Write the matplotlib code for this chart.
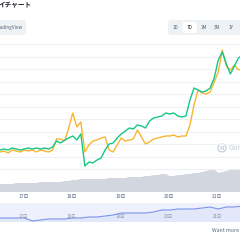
import numpy as np
import matplotlib
matplotlib.use('Agg')
import matplotlib.pyplot as plt
from matplotlib.patches import FancyBboxPatch, Circle

plt.rcParams['font.family'] = ['Noto Sans CJK JP', 'DejaVu Sans']

# two-hourly samples, first one at 16日 12:30
t_start = 16.52
step_days = 2 / 24

green_vals = [50, 51, 50, 52, 51, 50, 51, 52, 51, 52,
              51, 52, 51, 53, 59, 57, 60, 62, 64, 60,
              66, 34, 38, 37, 40, 42, 50, 56, 57, 62,
              66, 69, 72, 71, 75, 74, 72, 79, 82, 83,
              84, 87, 86, 87, 84, 83, 84, 100, 112, 110,
              108, 109, 112, 122, 140, 148, 136, 126, 134, 142, 145]
yellow_vals = [48, 49, 47, 50, 49, 48, 50, 49, 50, 48,
               50, 49, 48, 50, 61, 61, 59, 72, 87, 73,
               78, 48, 55, 59, 60, 62, 63, 50, 48, 55,
               62, 59, 60, 61, 70, 63, 56, 58, 61, 62,
               63, 64, 64, 65, 63, 64, 64, 75, 95, 110,
               107, 106, 108, 118, 128, 150, 134, 130, 135, 130, 132]
backdrop_vals = [16, 16, 16, 16, 17, 17, 17, 17, 17, 17,
                 18, 18, 18, 18, 18, 18, 19, 19, 20, 20,
                 21, 21, 21, 21, 21, 21, 21, 22, 22, 22,
                 22, 22, 23, 23, 23, 23, 24, 24, 25, 25,
                 26, 26, 24, 24, 25, 25, 26, 26, 27, 27,
                 28, 29, 30, 31, 27, 28, 29, 30, 30, 31, 32]

# navigator, four-hourly
nav_vals = [4, 4, 4, 4, 1, 2, 3, 3, 3, 4, 4, 5, 5, 6, 7, 9,
            9, 9, 9, 10, 12, 12, 13, 13, 13, 14, 15, 13, 15, 15, 16]

day_ticks = [17, 18, 19, 20, 21]
day_labels = ['17日', '18日', '19日', '20日', '21日']
range_buttons = ['1D', '7D', '1M', '3M', '1Y']
selected_range = '7D'

W = H = 240
PX_PER_DAY = 48.5
t_end = t_start + W / PX_PER_DAY
grey_txt = '#58667e'


def rect(x0, y0, x1, y1):
    return [x0 / W, 1 - y1 / H, (x1 - x0) / W, (y1 - y0) / H]


fig = plt.figure(figsize=(2.4, 2.4), dpi=100, facecolor='white')

# page decorations in pixel coordinates
bg = fig.add_axes([0, 0, 1, 1])
bg.set_xlim(0, W)
bg.set_ylim(H, 0)
bg.axis('off')

bg.text(-1, 5, 'イチャート', fontsize=4.8, fontweight='bold', color='#222531',
        ha='left', va='center')

bg.add_patch(FancyBboxPatch((-10, 20), 36, 15, boxstyle='round,pad=0,rounding_size=3',
                            fc='#eff2f5', ec='none'))
bg.text(23, 27.5, 'TradingView', fontsize=3.4, color=grey_txt, ha='right', va='center')

bg.add_patch(FancyBboxPatch((168, 20), 80, 15, boxstyle='round,pad=0,rounding_size=3',
                            fc='#eff2f5', ec='none'))
for i, lab in enumerate(range_buttons):
    cx = 176 + i * 13.7
    if lab == selected_range:
        bg.add_patch(FancyBboxPatch((cx - 7, 22), 14, 11, boxstyle='round,pad=0,rounding_size=2',
                                    fc='white', ec='none'))
    bg.text(cx, 27.5, lab, fontsize=3.4, color='#222531' if lab == selected_range else grey_txt,
            ha='center', va='center')

bg.add_patch(Circle((222, 148), 4, fc='none', ec='#c4ccd9', lw=0.8))
bg.text(222, 148.3, 'M', fontsize=3.5, color='#c4ccd9', ha='center', va='center', fontweight='bold')
bg.text(229, 148, 'CoinMarketCap', fontsize=4.5, color='#bcc5d3', ha='left', va='center')

bg.text(212, 231, 'Want more data?', fontsize=3.8, color=grey_txt, ha='left', va='center')

# main chart
t = t_start + np.arange(len(green_vals)) * step_days
ax = fig.add_axes(rect(0, 44, 240, 192))
ax.set_facecolor('none')
ax.fill_between(t, 8, backdrop_vals, color='#d1d6df', lw=0, zorder=1)
ax.plot(t, yellow_vals, color='#f6b632', lw=1.0, zorder=3)
ax.plot(t, green_vals, color='#16c784', lw=1.0, zorder=4)
ax.set_xlim(t_start, t_end)
ax.set_ylim(8, 156)
ax.set_yticks(np.arange(31, 157, 12.5))
ax.set_yticklabels([])
ax.grid(axis='y', color='#eef1f4', lw=0.8, zorder=0)
ax.set_xticks(day_ticks)
ax.set_xticklabels(day_labels, fontsize=3.5, color=grey_txt)
ax.tick_params(length=0, pad=1.5)
for s in ax.spines.values():
    s.set_visible(False)

# navigator
tn = t_start + np.arange(len(nav_vals)) * 2 * step_days
nav = fig.add_axes(rect(0, 203, 240, 222))
nav.set_facecolor('#eef1fc')
nav.fill_between(tn, 0, nav_vals, color='#e2e7fa', lw=0)
nav.plot(tn, nav_vals, color='#7c94ea', lw=0.8)
nav.set_xlim(t_start, t_end)
nav.set_ylim(0, 19)
for d, lab in zip(day_ticks, day_labels):
    nav.text(d, 5, lab, fontsize=3.2, color='#8a94a6', ha='center', va='center')
nav.set_xticks([])
nav.set_yticks([])
for s in nav.spines.values():
    s.set_visible(False)

fig.savefig('out.png', dpi=100, facecolor='white')
